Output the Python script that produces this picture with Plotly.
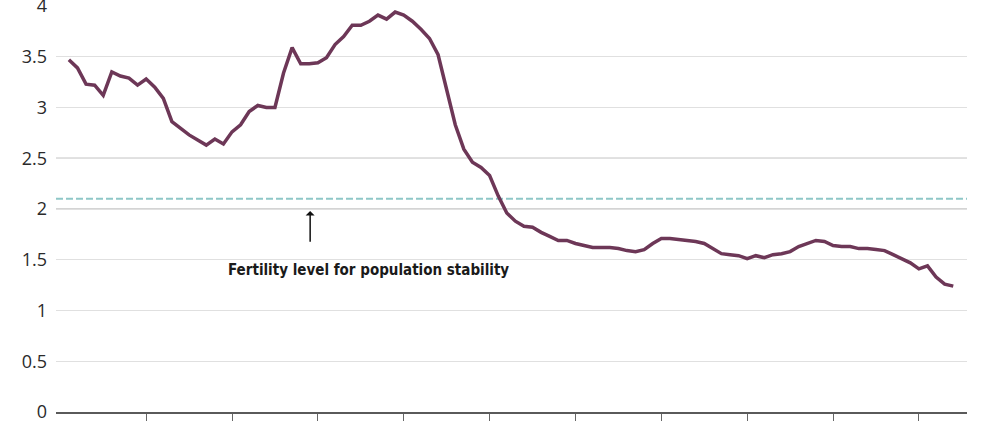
#!/usr/bin/env python3
# -*- coding: utf-8 -*-

'''
fertility rate line chart
'''

import plotly.graph_objs as go

# data, one value per year
years = list(range(1921, 2025))
fertility = [
    3.47, 3.39, 3.23, 3.22, 3.12, 3.35, 3.31, 3.29, 3.22, 3.28,
    3.20, 3.09, 2.86, 2.79, 2.73, 2.68, 2.63, 2.69, 2.64, 2.76,
    2.83, 2.96, 3.02, 3.00, 3.00, 3.34, 3.59, 3.43, 3.43, 3.44,
    3.49, 3.62, 3.70, 3.81, 3.81, 3.85, 3.91, 3.87, 3.94, 3.91,
    3.85, 3.77, 3.68, 3.52, 3.19, 2.83, 2.59, 2.46, 2.41, 2.33,
    2.13, 1.96, 1.88, 1.83, 1.82, 1.77, 1.73, 1.69, 1.69, 1.66,
    1.64, 1.62, 1.62, 1.62, 1.61, 1.59, 1.58, 1.60, 1.66, 1.71,
    1.71, 1.70, 1.69, 1.68, 1.66, 1.61, 1.56, 1.55, 1.54, 1.51,
    1.54, 1.52, 1.55, 1.56, 1.58, 1.63, 1.66, 1.69, 1.68, 1.64,
    1.63, 1.63, 1.61, 1.61, 1.60, 1.59, 1.55, 1.51, 1.47, 1.41,
    1.44, 1.33, 1.26, 1.24,
]
replacement_level = 2.1
decade_ticks = [1930, 1940, 1950, 1960, 1970, 1980, 1990, 2000, 2010, 2020]
major_ticks = [1940, 1970, 2000]
y_ticks = [0, 0.5, 1, 1.5, 2, 2.5, 3, 3.5, 4]
y_tick_text = ["0", "0.5", "1", "1.5", "2", "2.5", "3", "3.5", "4"]
annotation_text = "Fertility level for population stability"

x_range = [1919.5, 2025.6]

# line trace
trace = go.Scatter(
    x=years,
    y=fertility,
    mode="lines",
    line=dict(color="#6d3757", width=3.5),
    hoverinfo="x+y",
    showlegend=False,
)

layout = go.Layout(
    width=988,
    height=421,
    margin=dict(l=56, r=21, t=6, b=9),
    plot_bgcolor="white",
    paper_bgcolor="white",
    xaxis=dict(
        range=x_range,
        automargin=False,
        showgrid=False,
        zeroline=False,
        showticklabels=False,
        showline=True,
        linecolor="#5a5a5a",
        linewidth=1.5,
        ticks="outside",
        tickvals=decade_ticks,
        ticklen=9,
        tickwidth=1,
        tickcolor="#666666",
    ),
    # second axis only to draw the heavier ticks
    xaxis2=dict(
        range=x_range,
        overlaying="x",
        anchor="y",
        side="bottom",
        automargin=False,
        showgrid=False,
        zeroline=False,
        showticklabels=False,
        showline=False,
        ticks="outside",
        tickvals=major_ticks,
        ticklen=9,
        tickwidth=2,
        tickcolor="#333333",
    ),
    yaxis=dict(
        range=[0, 4],
        automargin=False,
        tickvals=y_ticks,
        ticktext=y_tick_text,
        showgrid=True,
        gridcolor="#e0e0e0",
        gridwidth=1,
        zeroline=False,
        ticks="",
        ticklabelstandoff=8,
        ticklabeloverflow="allow",
        tickfont=dict(family="Open Sans, sans-serif", size=18, color="#2a2a2a"),
        fixedrange=True,
    ),
    shapes=[
        # darker grid lines around the threshold
        dict(type="line", xref="paper", x0=0, x1=1, yref="y", y0=2, y1=2,
             line=dict(color="#c6c6c6", width=1.5), layer="below"),
        dict(type="line", xref="paper", x0=0, x1=1, yref="y", y0=2.5, y1=2.5,
             line=dict(color="#c6c6c6", width=1.5), layer="below"),
        # replacement level
        dict(type="line", xref="paper", x0=0, x1=1, yref="y",
             y0=replacement_level, y1=replacement_level,
             line=dict(color="#8ec7c7", width=2, dash="7px,3px"), layer="below"),
    ],
    annotations=[
        dict(x=1949.1, y=1.98, xref="x", yref="y", ax=1949.1, ay=1.58,
             axref="x", ayref="y", text=" ", showarrow=True,
             arrowhead=1, arrowsize=1, arrowwidth=1.5, arrowcolor="#111111"),
        dict(x=1955.9, y=1.40, xref="x", yref="y", text="<b>" + annotation_text + "</b>",
             showarrow=False,
             font=dict(family="Liberation Sans Narrow, DejaVu Sans Condensed, Arial Narrow, sans-serif",
                       size=15, color="#1a1a1a")),
    ],
)

fig = go.Figure(data=[trace], layout=layout)
# drop the default page margin so the figure sits at the window's corner
fig.write_html("out.html", config={"displayModeBar": False},
               post_script="document.body.style.margin='0';")
